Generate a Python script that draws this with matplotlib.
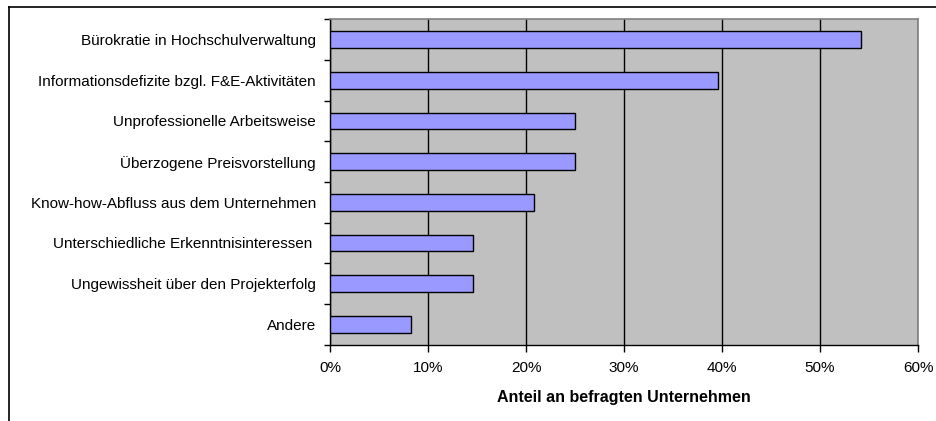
import matplotlib
matplotlib.use("Agg")
import matplotlib.pyplot as plt
from matplotlib.ticker import FixedLocator, PercentFormatter
from matplotlib.lines import Line2D

categories = [
    "Bürokratie in Hochschulverwaltung",
    "Informationsdefizite bzgl. F&E-Aktivitäten",
    "Unprofessionelle Arbeitsweise",
    "Überzogene Preisvorstellung",
    "Know-how-Abfluss aus dem Unternehmen",
    "Unterschiedliche Erkenntnisinteressen ",
    "Ungewissheit über den Projekterfolg",
    "Andere",
]
values = [54.2, 39.6, 25.0, 25.0, 20.8, 14.6, 14.6, 8.3]
x_ticks = [0, 10, 20, 30, 40, 50, 60]
x_label = "Anteil an befragten Unternehmen"

plt.rcParams['font.family'] = ['Liberation Sans', 'DejaVu Sans']

fig = plt.figure(figsize=(9.36, 4.21), dpi=100)
ax = fig.add_axes([330/936, 1-344.5/421, (918-330)/936, (344.5-19.3)/421])

n = len(categories)
pos = list(range(n))
ax.barh(pos, values, height=0.41, color="#9999FF", edgecolor="black", linewidth=1.0, zorder=3)

ax.set_facecolor("#C0C0C0")
ax.set_xlim(0, 60)
ax.set_ylim(n - 0.5, -0.5)
ax.set_xticks(x_ticks)
ax.xaxis.set_major_formatter(PercentFormatter(decimals=0))
ax.grid(axis="x", color="black", linewidth=1.0, zorder=1)
ax.set_axisbelow(True)

ax.yaxis.set_major_locator(FixedLocator([p - 0.5 for p in pos] + [n - 0.5]))
ax.set_yticklabels([], minor=False)
ax.set_yticks(pos, minor=True)
ax.set_yticklabels(categories, minor=True, fontsize=11)
ax.tick_params(axis="y", which="minor", length=0, pad=10)
ax.tick_params(axis="y", which="major", length=4, width=1, direction="out", color="black")
ax.tick_params(axis="x", which="major", length=5, width=1, direction="out", labelsize=11, pad=7)

for s in ["top", "right"]:
    ax.spines[s].set_color("#808080")
    ax.spines[s].set_linewidth(1.2)
for s in ["left", "bottom"]:
    ax.spines[s].set_color("black")
    ax.spines[s].set_linewidth(1.0)

ax.set_xlabel(x_label, fontsize=11.5, fontweight="bold", labelpad=11)

# outer chart border (top and left visible)
fig.add_artist(Line2D([9/936, 1.0], [1-7/421, 1-7/421], transform=fig.transFigure, color="black", linewidth=1.2))
fig.add_artist(Line2D([9/936, 9/936], [0, 1-7/421], transform=fig.transFigure, color="black", linewidth=1.2))

fig.savefig("out.png", dpi=100)
